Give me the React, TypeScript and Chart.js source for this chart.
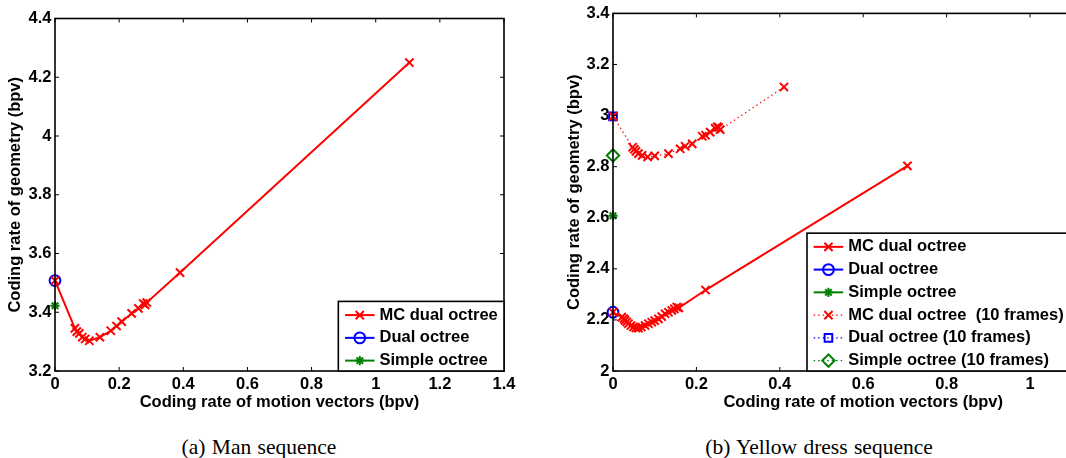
import React, { useEffect, useRef } from 'react';
import { Chart, registerables } from 'chart.js';

Chart.register(...registerables);

const RED = '#ff0000';
const BLUE = '#0000ff';
const GREEN = '#008000';
const FAMILY = "Arial, 'Liberation Sans', Helvetica, sans-serif";
const FS = 16.5;

// ---------- (a) Man sequence ----------
const manMcX = [0, 0.062, 0.068, 0.076, 0.085, 0.094, 0.107, 0.14, 0.174, 0.192, 0.208, 0.239, 0.26, 0.275, 0.281, 0.286, 0.39, 1.105];
const manMcY = [3.508, 3.345, 3.334, 3.328, 3.315, 3.309, 3.303, 3.315, 3.337, 3.353, 3.368, 3.396, 3.413, 3.43, 3.425, 3.433, 3.535, 4.25];
const manDualX = [0];
const manDualY = [3.508];
const manSimpleX = [0];
const manSimpleY = [3.422];
const manXTicks = [0, 0.2, 0.4, 0.6, 0.8, 1, 1.2, 1.4];
const manXTickLabels = ['0', '0.2', '0.4', '0.6', '0.8', '1', '1.2', '1.4'];
const manYTicks = [3.2, 3.4, 3.6, 3.8, 4, 4.2, 4.4];
const manYTickLabels = ['3.2', '3.4', '3.6', '3.8', '4', '4.2', '4.4'];

// ---------- (b) Yellow dress sequence ----------
const ydMcX = [0, 0.021, 0.026, 0.029, 0.033, 0.037, 0.043, 0.049, 0.055, 0.061, 0.068, 0.077, 0.085, 0.093, 0.1, 0.109, 0.117, 0.125, 0.133, 0.141, 0.147, 0.153, 0.158, 0.222, 0.706];
const ydMcY = [2.23, 2.211, 2.205, 2.198, 2.192, 2.185, 2.178, 2.172, 2.169, 2.168, 2.172, 2.178, 2.185, 2.191, 2.197, 2.204, 2.213, 2.224, 2.23, 2.237, 2.243, 2.25, 2.247, 2.317, 2.803];
const ydDualX = [0];
const ydDualY = [2.23];
const ydSimpleX = [0];
const ydSimpleY = [2.608];
const ydMc10X = [0, 0.047, 0.051, 0.055, 0.061, 0.07, 0.083, 0.1, 0.133, 0.161, 0.173, 0.19, 0.214, 0.222, 0.233, 0.245, 0.25, 0.253, 0.257, 0.41];
const ydMc10Y = [2.997, 2.876, 2.868, 2.86, 2.851, 2.844, 2.838, 2.842, 2.851, 2.87, 2.88, 2.889, 2.919, 2.923, 2.935, 2.95, 2.956, 2.954, 2.945, 3.112];
const ydDual10X = [0];
const ydDual10Y = [2.997];
const ydSimple10X = [0];
const ydSimple10Y = [2.844];
const ydXTicks = [0, 0.2, 0.4, 0.6, 0.8, 1, 1.2];
const ydXTickLabels = ['0', '0.2', '0.4', '0.6', '0.8', '1', '1.2'];
const ydYTicks = [2, 2.2, 2.4, 2.6, 2.8, 3, 3.2, 3.4];
const ydYTickLabels = ['2', '2.2', '2.4', '2.6', '2.8', '3', '3.2', '3.4'];

const X_TITLE = 'Coding rate of motion vectors (bpv)';
const Y_TITLE = 'Coding rate of geometry (bpv)';

type Marker = 'crossRot' | 'circle' | 'star' | 'rect' | 'rectRot';
interface LegendItem { label: string; color: string; dash: number[]; lineWidth: number; marker: Marker; r: number; }

const MARK: Record<string, { style: Marker; r: number }> = {
  cross: { style: 'crossRot', r: 5.8 },
  circle: { style: 'circle', r: 5.4 },
  star: { style: 'star', r: 4.6 },
  square: { style: 'rect', r: 5.4 },
  diamond: { style: 'rectRot', r: 6.2 },
};

const pts = (xs: number[], ys: number[]) => xs.map((x, i) => ({ x, y: ys[i] }));

function drawMarker(ctx: CanvasRenderingContext2D, style: Marker, x: number, y: number, r: number, color: string, lw: number) {
  ctx.save();
  ctx.strokeStyle = color;
  ctx.lineWidth = lw;
  ctx.setLineDash([]);
  ctx.beginPath();
  const d = r * Math.SQRT1_2;
  switch (style) {
    case 'crossRot':
      ctx.moveTo(x - d, y - d); ctx.lineTo(x + d, y + d);
      ctx.moveTo(x - d, y + d); ctx.lineTo(x + d, y - d);
      break;
    case 'star':
      ctx.moveTo(x - r, y); ctx.lineTo(x + r, y);
      ctx.moveTo(x, y - r); ctx.lineTo(x, y + r);
      ctx.moveTo(x - d, y - d); ctx.lineTo(x + d, y + d);
      ctx.moveTo(x - d, y + d); ctx.lineTo(x + d, y - d);
      break;
    case 'circle':
      ctx.arc(x, y, r, 0, Math.PI * 2);
      break;
    case 'rect':
      ctx.rect(x - d, y - d, 2 * d, 2 * d);
      break;
    case 'rectRot':
      ctx.moveTo(x, y - r); ctx.lineTo(x + r, y); ctx.lineTo(x, y + r); ctx.lineTo(x - r, y); ctx.closePath();
      break;
  }
  ctx.stroke();
  ctx.restore();
}

const framePlugin = {
  id: 'matlabFrame',
  afterDatasetsDraw(chart: any) {
    const { ctx, chartArea: a, scales } = chart;
    const tl = 4;
    ctx.save();
    ctx.strokeStyle = '#000';
    ctx.lineWidth = 1;
    ctx.beginPath();
    scales.x.ticks.forEach((t: any) => {
      const p = scales.x.getPixelForValue(t.value);
      ctx.moveTo(p, a.bottom); ctx.lineTo(p, a.bottom - tl);
      ctx.moveTo(p, a.top); ctx.lineTo(p, a.top + tl);
    });
    scales.y.ticks.forEach((t: any) => {
      const p = scales.y.getPixelForValue(t.value);
      ctx.moveTo(a.left, p); ctx.lineTo(a.left + tl, p);
      ctx.moveTo(a.right, p); ctx.lineTo(a.right - tl, p);
    });
    ctx.stroke();
    ctx.lineWidth = 1.6;
    ctx.strokeRect(a.left, a.top, a.right - a.left, a.bottom - a.top);
    ctx.restore();
  },
};

function makeLegendPlugin(items: LegendItem[], anchor: 'right' | 'left', offset: number) {
  return {
    id: 'boxLegend',
    afterDraw(chart: any) {
      const { ctx, chartArea: a } = chart;
      const padL = 6.7, sample = 29.5, gap = 5, padR = 6.2;
      const padT = 13.7, rowH = 22.75, padB = 10.4;
      ctx.save();
      ctx.font = `bold ${FS}px ${FAMILY}`;
      const textW = Math.max(...items.map((it) => ctx.measureText(it.label).width));
      const w = padL + sample + gap + textW + padR;
      const h = padT + rowH * (items.length - 1) + padB;
      const left = anchor === 'right' ? a.right - w : a.left + offset;
      const top = a.bottom - h;
      ctx.fillStyle = '#fff';
      ctx.fillRect(left, top, w, h);
      ctx.strokeStyle = '#000';
      ctx.lineWidth = 1.6;
      ctx.strokeRect(left, top, w, h);
      items.forEach((it, i) => {
        const cy = top + padT + i * rowH;
        const x0 = left + padL;
        const x1 = x0 + sample;
        ctx.save();
        ctx.strokeStyle = it.color;
        ctx.lineWidth = it.lineWidth;
        ctx.setLineDash(it.dash);
        ctx.beginPath();
        ctx.moveTo(x0, cy); ctx.lineTo(x1, cy);
        ctx.stroke();
        ctx.restore();
        drawMarker(ctx, it.marker, (x0 + x1) / 2, cy, it.r, it.color, 2);
        ctx.fillStyle = '#000';
        ctx.textAlign = 'left';
        ctx.textBaseline = 'middle';
        ctx.fillText(it.label, x1 + gap, cy);
      });
      ctx.restore();
    },
  };
}

const font = { family: FAMILY, size: FS, weight: 'bold' as const, lineHeight: 1.2 };

interface PanelSpec {
  width: number; height: number;
  plotLeft: number; plotTop: number; plotRight: number; plotBottom: number;
  xMin: number; xMax: number; yMin: number; yMax: number;
  xTicks: number[]; xLabels: string[]; yTicks: number[]; yLabels: string[];
  yTitleCenter: number; datasets: any[]; legend: any;
}

function buildConfig(p: PanelSpec): any {
  const xTitleCenter = 402.7;
  const half = (FS * 1.2) / 2;
  return {
    type: 'scatter',
    data: { datasets: p.datasets },
    options: {
      animation: false,
      responsive: false,
      events: [],
      layout: { padding: { left: 0, top: p.plotTop, right: p.width - p.plotRight, bottom: 0 } },
      plugins: { legend: { display: false }, tooltip: { enabled: false } },
      scales: {
        x: {
          type: 'linear', min: p.xMin, max: p.xMax,
          afterBuildTicks: (s: any) => { s.ticks = p.xTicks.map((v) => ({ value: v })); },
          afterFit: (s: any) => { s.height = p.height - p.plotBottom; },
          grid: { display: false, drawTicks: false },
          border: { display: false },
          ticks: { autoSkip: false, maxRotation: 0, padding: 4, color: '#000', font, callback: (_v: any, i: number) => p.xLabels[i] },
          title: { display: true, text: X_TITLE, color: '#000', font, padding: { top: 0, bottom: p.height - xTitleCenter - half } },
        },
        y: {
          type: 'linear', min: p.yMin, max: p.yMax,
          afterBuildTicks: (s: any) => { s.ticks = p.yTicks.map((v) => ({ value: v })); },
          afterFit: (s: any) => { s.width = p.plotLeft; },
          grid: { display: false, drawTicks: false },
          border: { display: false },
          ticks: { autoSkip: false, padding: 3.5, color: '#000', font, callback: (_v: any, i: number) => p.yLabels[i] },
          title: { display: true, text: Y_TITLE, color: '#000', font, padding: { top: p.yTitleCenter - half, bottom: 0 } },
        },
      },
    },
    plugins: [framePlugin, p.legend],
  };
}

function lineSet(label: string, xs: number[], ys: number[], color: string, dash: number[], lw: number) {
  return {
    label, data: pts(xs, ys), showLine: true, borderColor: color, borderWidth: lw, borderDash: dash,
    pointStyle: MARK.cross.style, pointRadius: MARK.cross.r, pointBorderColor: color, pointBorderWidth: 2,
    pointBackgroundColor: 'rgba(0,0,0,0)', clip: false, tension: 0,
  };
}

function markSet(label: string, xs: number[], ys: number[], color: string, m: { style: Marker; r: number }) {
  return {
    label, data: pts(xs, ys), showLine: false, borderColor: color,
    pointStyle: m.style, pointRadius: m.r, pointBorderColor: color, pointBorderWidth: 2,
    pointBackgroundColor: 'rgba(0,0,0,0)', clip: false,
  };
}

const manLegend: LegendItem[] = [
  { label: 'MC dual octree', color: RED, dash: [], lineWidth: 2, marker: MARK.cross.style, r: MARK.cross.r },
  { label: 'Dual octree', color: BLUE, dash: [], lineWidth: 2, marker: MARK.circle.style, r: MARK.circle.r },
  { label: 'Simple octree', color: GREEN, dash: [], lineWidth: 2, marker: MARK.star.style, r: MARK.star.r },
];

const ydLegend: LegendItem[] = [
  { label: 'MC dual octree', color: RED, dash: [], lineWidth: 2, marker: MARK.cross.style, r: MARK.cross.r },
  { label: 'Dual octree', color: BLUE, dash: [], lineWidth: 2, marker: MARK.circle.style, r: MARK.circle.r },
  { label: 'Simple octree', color: GREEN, dash: [], lineWidth: 2, marker: MARK.star.style, r: MARK.star.r },
  { label: 'MC dual octree  (10 frames)', color: RED, dash: [1.5, 3], lineWidth: 1.2, marker: MARK.cross.style, r: MARK.cross.r },
  { label: 'Dual octree (10 frames)', color: BLUE, dash: [1.5, 3], lineWidth: 1.2, marker: MARK.square.style, r: MARK.square.r },
  { label: 'Simple octree (10 frames)', color: GREEN, dash: [1.5, 3], lineWidth: 1.2, marker: MARK.diamond.style, r: MARK.diamond.r },
];

const manSpec = (): PanelSpec => ({
  width: 530, height: 420,
  plotLeft: 55, plotTop: 18.5, plotRight: 504, plotBottom: 371,
  xMin: 0, xMax: 1.4, yMin: 3.2, yMax: 4.4,
  xTicks: manXTicks, xLabels: manXTickLabels, yTicks: manYTicks, yLabels: manYTickLabels,
  yTitleCenter: 15.2,
  datasets: [
    lineSet('MC dual octree', manMcX, manMcY, RED, [], 2),
    markSet('Dual octree', manDualX, manDualY, BLUE, MARK.circle),
    markSet('Simple octree', manSimpleX, manSimpleY, GREEN, MARK.star),
  ],
  legend: makeLegendPlugin(manLegend, 'right', 0),
});

const ydSpec = (): PanelSpec => ({
  width: 620, height: 420,
  plotLeft: 83, plotTop: 10, plotRight: 583.4, plotBottom: 371,
  xMin: 0, xMax: 1.2, yMin: 2, yMax: 3.4,
  xTicks: ydXTicks, xLabels: ydXTickLabels, yTicks: ydYTicks, yLabels: ydYTickLabels,
  yTitleCenter: 44.4,
  datasets: [
    lineSet('MC dual octree', ydMcX, ydMcY, RED, [], 2),
    markSet('Dual octree', ydDualX, ydDualY, BLUE, MARK.circle),
    markSet('Simple octree', ydSimpleX, ydSimpleY, GREEN, MARK.star),
    lineSet('MC dual octree  (10 frames)', ydMc10X, ydMc10Y, RED, [1.5, 3], 1.2),
    markSet('Dual octree (10 frames)', ydDual10X, ydDual10Y, BLUE, MARK.square),
    markSet('Simple octree (10 frames)', ydSimple10X, ydSimple10Y, GREEN, MARK.diamond),
  ],
  legend: makeLegendPlugin(ydLegend, 'left', 194),
});

function Panel({ spec, left }: { spec: () => PanelSpec; left: number }) {
  const ref = useRef<HTMLCanvasElement>(null);
  const s = spec();
  useEffect(() => {
    if (!ref.current) return;
    const chart = new Chart(ref.current, buildConfig(spec()));
    return () => chart.destroy();
  }, []);
  return (
    <canvas
      ref={ref}
      width={s.width}
      height={s.height}
      style={{ position: 'absolute', left, top: 0, width: s.width, height: s.height }}
    />
  );
}

const captionStyle: React.CSSProperties = {
  position: 'absolute',
  top: 448,
  transform: 'translate(-50%, -50%)',
  whiteSpace: 'nowrap',
  fontFamily: "'Liberation Serif', 'Times New Roman', serif",
  fontSize: 21.5,
  wordSpacing: 1,
  color: '#000',
  lineHeight: 1,
};

export default function App() {
  return (
    <div style={{ position: 'fixed', left: 0, top: 0, width: 1066, height: 458, overflow: 'hidden', background: '#fff' }}>
      <Panel spec={manSpec} left={0} />
      <Panel spec={ydSpec} left={530} />
      <div style={{ ...captionStyle, left: 259 }}>(a) Man sequence</div>
      <div style={{ ...captionStyle, left: 819 }}>(b) Yellow dress sequence</div>
    </div>
  );
}
